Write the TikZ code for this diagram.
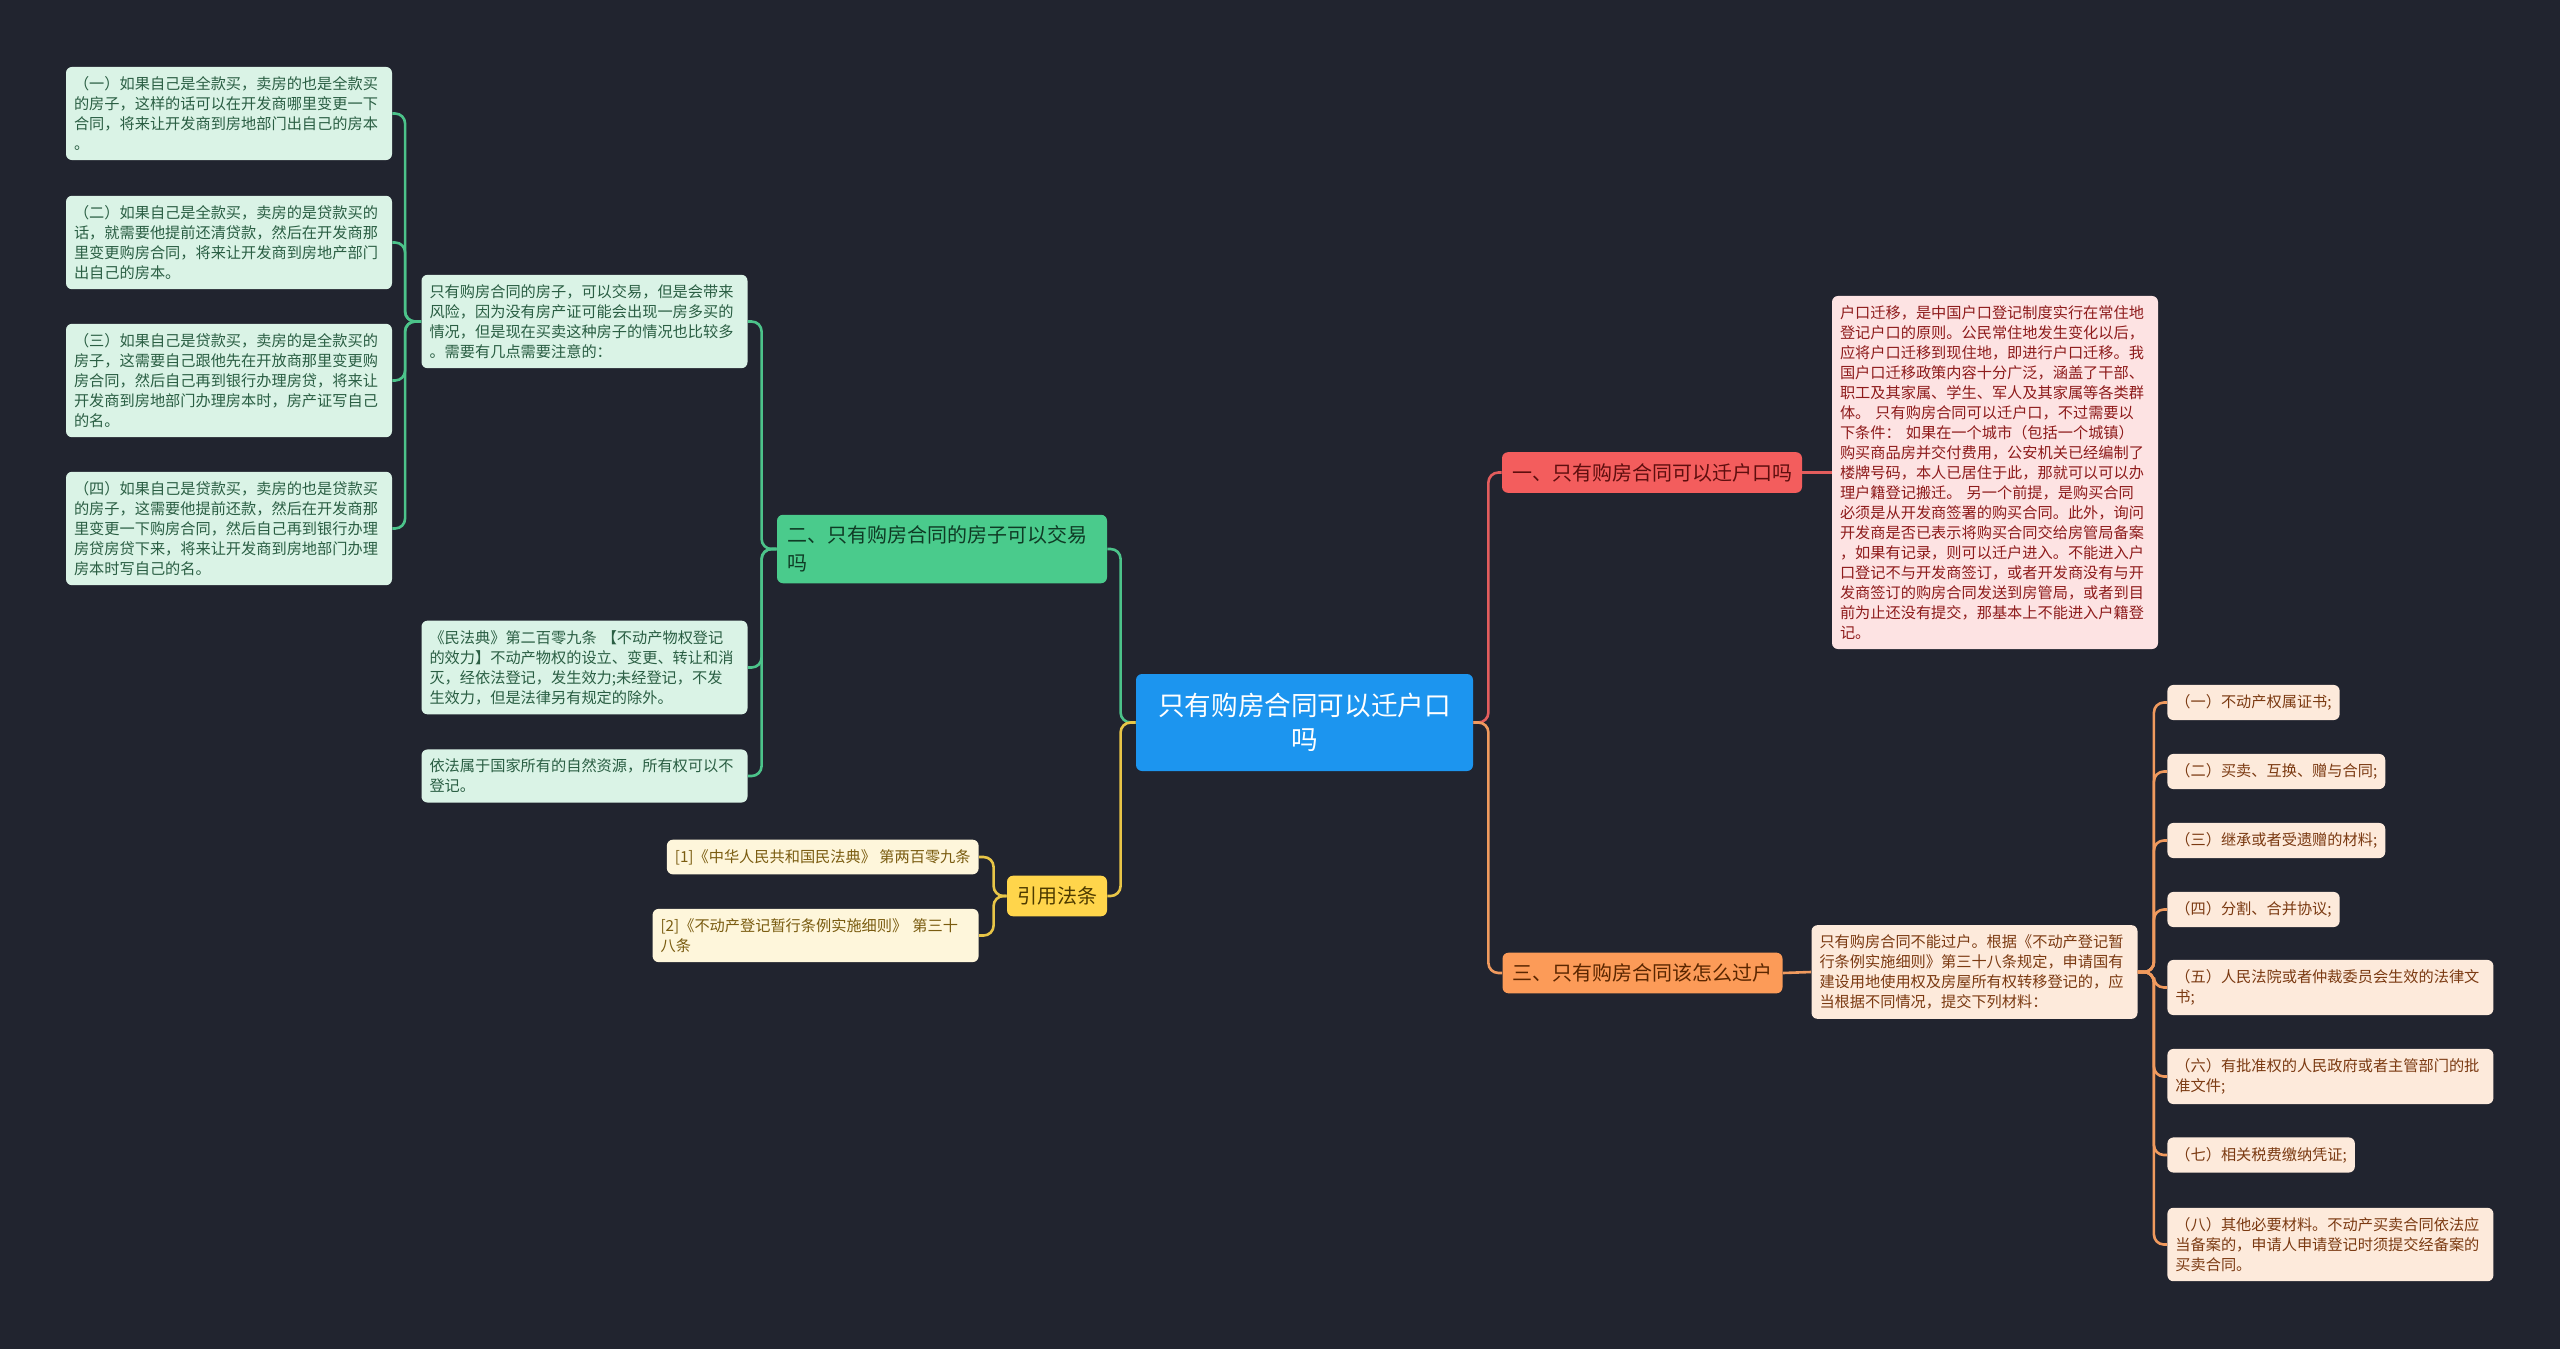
\documentclass[tikz,border=0pt]{standalone}
\usepackage{fontspec}
\setmainfont{Noto Sans CJK SC}
\usetikzlibrary{positioning}

\definecolor{bgdark}{HTML}{21242F}
\definecolor{hubblue}{HTML}{1C95EF}
\definecolor{redfill}{HTML}{F35D5D}
\definecolor{redink}{HTML}{5E0E0E}
\definecolor{redline}{HTML}{E35D5D}
\definecolor{pinkfill}{HTML}{FDE3E3}
\definecolor{pinkink}{HTML}{8E1B1B}
\definecolor{orgfill}{HTML}{FC9B58}
\definecolor{orgink}{HTML}{5A2600}
\definecolor{orgline}{HTML}{F09A5E}
\definecolor{peachfill}{HTML}{FDEADB}
\definecolor{peachink}{HTML}{7B3A12}
\definecolor{grnfill}{HTML}{4ACB8C}
\definecolor{grnink}{HTML}{0F3B25}
\definecolor{grnline}{HTML}{4CC38A}
\definecolor{mintfill}{HTML}{DAF3E6}
\definecolor{mintink}{HTML}{2A5E43}
\definecolor{ylwfill}{HTML}{FFD54B}
\definecolor{ylwink}{HTML}{4D3A00}
\definecolor{ylwline}{HTML}{E8C547}
\definecolor{creamfill}{HTML}{FEF6DB}
\definecolor{creamink}{HTML}{7A5C10}

\begin{document}
\begin{tikzpicture}[
        x = 0.5pt, y = -0.5pt,
        box/.style = {rounded corners = 3pt, inner xsep = 4pt, inner ysep = 4.8pt,
            align = left, font = \fontsize{7.6}{10}\selectfont},
        wide/.style = {box, text width = 155pt},
        mint/.style = {wide, fill = mintfill, text = mintink},
        pink/.style = {wide, fill = pinkfill, text = pinkink},
        peach/.style = {box, fill = peachfill, text = peachink},
        cream/.style = {box, fill = creamfill, text = creamink},
        branch/.style = {rounded corners = 3pt, inner xsep = 5pt, inner ysep = 5.5pt,
            align = left, font = \fontsize{10}{14}\selectfont},
        link/.style = {line width = 1.3pt, rounded corners = 5pt}
    ]
    \fill[bgdark] (0,0) rectangle (2560,1349);
    \useasboundingbox (0,0) rectangle (2560,1349);

    \node[rounded corners = 3pt, fill = hubblue, text = white, align = center,
        minimum width = 168.5pt, minimum height = 48.5pt,
        font = \fontsize{13.3}{17}\selectfont] (hub) at (1304.5,722.5)
        {只有购房合同可以迁户口\\吗};

    % right side
    \node[branch, fill = redfill, text = redink] (one) at (1652,472.5) {一、只有购房合同可以迁户口吗};
    \node[branch, fill = orgfill, text = orgink] (three) at (1642.5,973) {三、只有购房合同该怎么过户};

    \node[pink] (hukou) at (1995,472.5) {户口迁移，是中国户口登记制度实行在常住地\\
        登记户口的原则。公民常住地发生变化以后，\\
        应将户口迁移到现住地，即进行户口迁移。我\\
        国户口迁移政策内容十分广泛，涵盖了干部、\\
        职工及其家属、学生、军人及其家属等各类群\\
        体。 只有购房合同可以迁户口，不过需要以\\
        下条件： 如果在一个城市（包括一个城镇）\\
        购买商品房并交付费用，公安机关已经编制了\\
        楼牌号码，本人已居住于此，那就可以可以办\\
        理户籍登记搬迁。 另一个前提，是购买合同\\
        必须是从开发商签署的购买合同。此外，询问\\
        开发商是否已表示将购买合同交给房管局备案\\
        ，如果有记录，则可以迁户进入。不能进入户\\
        口登记不与开发商签订，或者开发商没有与开\\
        发商签订的购房合同发送到房管局，或者到目\\
        前为止还没有提交，那基本上不能进入户籍登\\
        记。};

    \node[peach, text width = 155pt] (transfer) at (1974.5,972) {只有购房合同不能过户。根据《不动产登记暂\\
        行条例实施细则》第三十八条规定，申请国有\\
        建设用地使用权及房屋所有权转移登记的，应\\
        当根据不同情况，提交下列材料：};

    \node[peach, anchor = west] (mat1) at (2167,702.5) {（一）不动产权属证书;};
    \node[peach, anchor = west] (mat2) at (2167,771.5) {（二）买卖、互换、赠与合同;};
    \node[peach, anchor = west] (mat3) at (2167,840.5) {（三）继承或者受遗赠的材料;};
    \node[peach, anchor = west] (mat4) at (2167,909.5) {（四）分割、合并协议;};
    \node[peach, anchor = west, text width = 155pt] (mat5) at (2167,987.5) {（五）人民法院或者仲裁委员会生效的法律文\\书;};
    \node[peach, anchor = west, text width = 155pt] (mat6) at (2167,1076.5) {（六）有批准权的人民政府或者主管部门的批\\准文件;};
    \node[peach, anchor = west] (mat7) at (2167,1155) {（七）相关税费缴纳凭证;};
    \node[peach, anchor = west, text width = 155pt] (mat8) at (2167,1244.5) {（八）其他必要材料。不动产买卖合同依法应\\
        当备案的，申请人申请登记时须提交经备案的\\买卖合同。};

    % left side
    \node[branch, fill = grnfill, text = grnink, text width = 155pt] (two) at (942,549) {二、只有购房合同的房子可以交易\\吗};
    \node[branch, fill = ylwfill, text = ylwink] (laws) at (1057,896) {引用法条};

    \node[mint] (trade) at (584.5,321.5) {只有购房合同的房子，可以交易，但是会带来\\
        风险，因为没有房产证可能会出现一房多买的\\
        情况，但是现在买卖这种房子的情况也比较多\\
        。需要有几点需要注意的：};
    \node[mint] (civil) at (584.5,667.5) {《民法典》第二百零九条 【不动产物权登记\\
        的效力】不动产物权的设立、变更、转让和消\\
        灭，经依法登记，发生效力;未经登记，不发\\
        生效力，但是法律另有规定的除外。};
    \node[mint] (nature) at (584.5,776) {依法属于国家所有的自然资源，所有权可以不\\登记。};

    \node[mint] (case1) at (229,113.5) {（一）如果自己是全款买，卖房的也是全款买\\
        的房子，这样的话可以在开发商哪里变更一下\\
        合同，将来让开发商到房地部门出自己的房本\\
        。};
    \node[mint] (case2) at (229,242.5) {（二）如果自己是全款买，卖房的是贷款买的\\
        话，就需要他提前还清贷款，然后在开发商那\\
        里变更购房合同，将来让开发商到房地产部门\\
        出自己的房本。};
    \node[mint] (case3) at (229,380.5) {（三）如果自己是贷款买，卖房的是全款买的\\
        房子，这需要自己跟他先在开放商那里变更购\\
        房合同，然后自己再到银行办理房贷，将来让\\
        开发商到房地部门办理房本时，房产证写自己\\
        的名。};
    \node[mint] (case4) at (229,528.5) {（四）如果自己是贷款买，卖房的也是贷款买\\
        的房子，这需要他提前还款，然后在开发商那\\
        里变更一下购房合同，然后自己再到银行办理\\
        房贷房贷下来，将来让开发商到房地部门办理\\
        房本时写自己的名。};

    \node[cream, anchor = east] (ref1) at (979,857) {[1]《中华人民共和国民法典》 第两百零九条};
    \node[cream, anchor = east, text width = 155pt] (ref2) at (979,935.5) {[2]《不动产登记暂行条例实施细则》 第三十\\八条};

    % connectors
    \draw[link, redline] (hub.east) -- ++(15,0) |- (one.west);
    \draw[link, orgline] (hub.east) -- ++(15,0) |- (three.west);
    \draw[link, grnline] (hub.west) -- ++(-15,0) |- (two.east);
    \draw[link, ylwline] (hub.west) -- ++(-15,0) |- (laws.east);
    \draw[link, redline] (one.east) -- (hukou.west);
    \draw[link, orgline] (three.east) -- (transfer.west);
    \foreach \m in {mat1, mat2, mat3, mat4, mat5, mat6, mat7, mat8}
        \draw[link, orgline] (transfer.east) -- ++(16,0) |- (\m.west);
    \foreach \c in {trade, civil, nature}
        \draw[link, grnline] (two.west) -- ++(-15,0) |- (\c.east);
    \foreach \c in {case1, case2, case3, case4}
        \draw[link, grnline] (trade.west) -- ++(-16,0) |- (\c.east);
    \foreach \r in {ref1, ref2}
        \draw[link, ylwline] (laws.west) -- ++(-13,0) |- (\r.east);
\end{tikzpicture}
\end{document}
